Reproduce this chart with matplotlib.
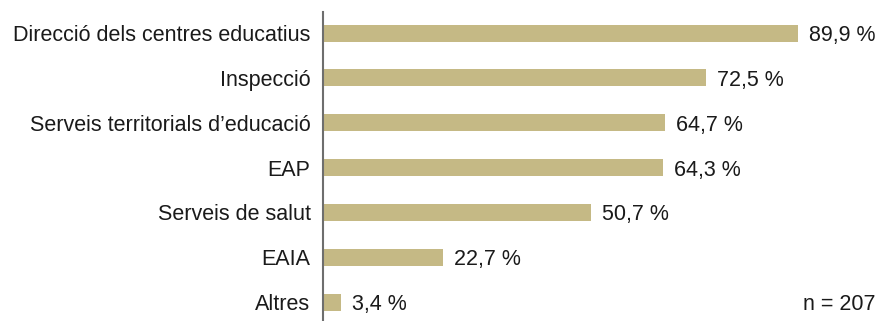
import matplotlib.pyplot as plt

# Dades
categories = ['Direcció dels centres educatius', 'Inspecció', 'Serveis territorials d’educació',
              'EAP', 'Serveis de salut', 'EAIA', 'Altres']
values = [89.9, 72.5, 64.7, 64.3, 50.7, 22.7, 3.4]
n_total = 207

plt.rcParams['font.family'] = ['Liberation Sans', 'DejaVu Sans']
fs = 15.5
txt_color = '#1a1a1a'

fig = plt.figure(figsize=(8.8, 3.21), dpi=100)
ax = fig.add_axes([323 / 880, 0, 557 / 880, 309 / 321])

pos = list(range(len(categories)))
ax.barh(pos, values, height=0.38, color='#c5b985')

# etiquetes de valor
for p, v in zip(pos, values):
    txt = f'{v:.1f}'.replace('.', ',') + ' %'
    ax.annotate(txt, (v, p), xytext=(8, 0), textcoords='offset points',
                va='center_baseline', ha='left', fontsize=fs, color=txt_color)

ax.annotate(f'n = {n_total}', (1.0, pos[-1]), xycoords=('axes fraction', 'data'),
            xytext=(-3, 0), textcoords='offset points',
            ha='right', va='center_baseline', fontsize=fs, color=txt_color)

ax.set_xlim(0, 557 / 5.28)
ax.set_ylim(6.42, -0.47)
ax.set_yticks(pos)
ax.set_yticklabels(categories, fontsize=fs, color=txt_color)
ax.tick_params(axis='y', length=0, pad=9)
ax.set_xticks([])
for s in ['top', 'right', 'bottom']:
    ax.spines[s].set_visible(False)
ax.spines['left'].set_color('#6e6e6e')
ax.spines['left'].set_linewidth(1.5)

fig.savefig('out.png', dpi=100)
